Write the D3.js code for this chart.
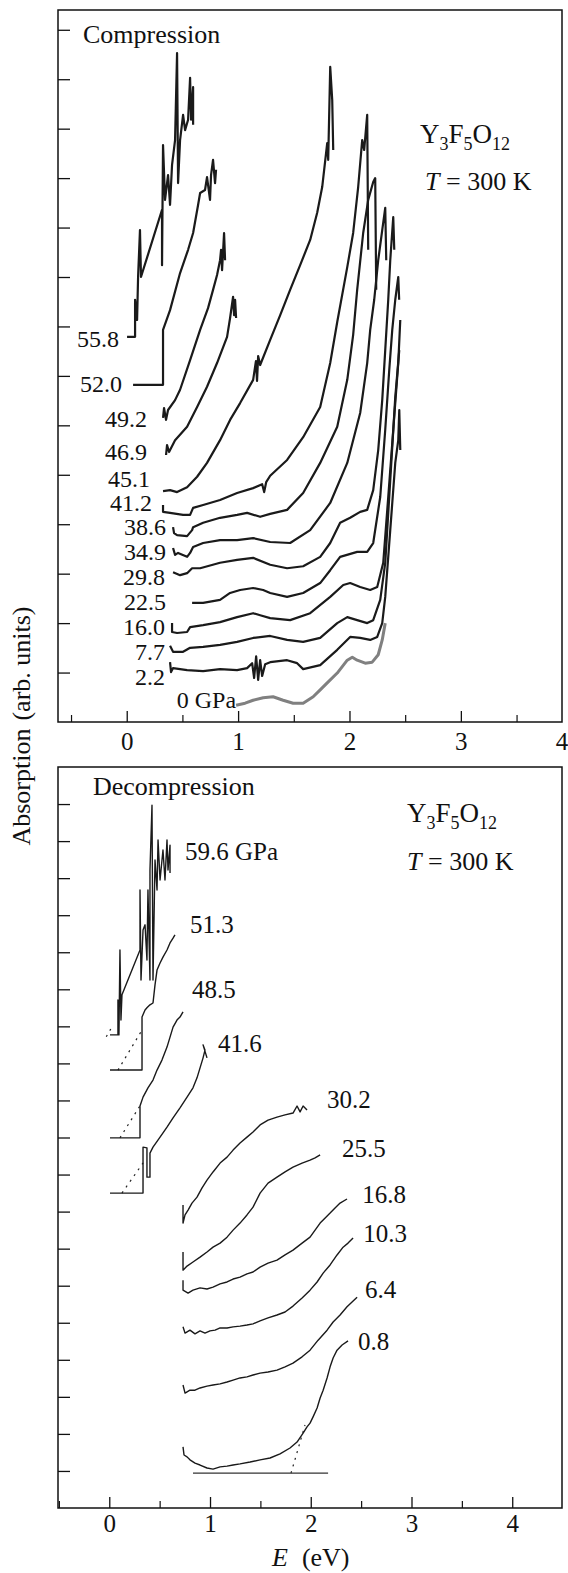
<!DOCTYPE html>
<html>
<head>
<meta charset="utf-8">
<script src="https://cdn.jsdelivr.net/npm/d3@7"></script>
<style>
  body { margin: 0; background: #fff; }
  svg text { font-family: "Liberation Serif", "Times New Roman", serif; fill: #111; }
</style>
</head>
<body>
<svg id="chart"></svg>
<script>
const width = 568;
const height = 1573;

// DATA -------------------------------------------
// energies in eV, absorption in arb. units (one unit = one y tick)

// compression run
const compLabels = ['55.8', '52.0', '49.2', '46.9', '45.1', '41.2', '38.6', '34.9', '29.8', '22.5', '16.0', '7.7', '2.2', '0 GPa'];
const compLabelAt = [[-0.069, 7.58], [-0.042, 6.67], [0.182, 5.97], [0.182, 5.30], [0.209, 4.76], [0.227, 4.27], [0.353, 3.78], [0.353, 3.28], [0.344, 2.77], [0.353, 2.27], [0.344, 1.76], [0.344, 1.25], [0.344, 0.75], [0.982, 0.28]];

const c558 = [[0.003, 7.79], [0.075, 7.79], [0.075, 8.54], [0.093, 8.13], [0.102, 9.00], [0.119, 9.95], [0.128, 9.00], [0.317, 10.36], [0.317, 9.24], [0.326, 11.67], [0.344, 10.56], [0.371, 11.06], [0.389, 10.46], [0.407, 11.27], [0.434, 11.77], [0.452, 13.53], [0.461, 10.90], [0.479, 11.77], [0.506, 12.28], [0.524, 11.97], [0.551, 12.18], [0.569, 13.03], [0.578, 12.18], [0.596, 12.84], [0.596, 12.08]];
const c520 = [[0.057, 6.82], [0.326, 6.82], [0.326, 7.93], [0.389, 8.33], [0.479, 9.08], [0.551, 9.55], [0.596, 9.89], [0.641, 10.46], [0.659, 10.70], [0.703, 10.76], [0.721, 11.02], [0.748, 10.56], [0.757, 11.06], [0.775, 11.37], [0.793, 10.90], [0.802, 11.17]];
const c492 = [[0.326, 6.15], [0.335, 6.35], [0.353, 6.11], [0.371, 6.31], [0.434, 6.51], [0.479, 6.72], [0.569, 7.32], [0.659, 7.93], [0.730, 8.37], [0.775, 8.74], [0.811, 9.04], [0.838, 9.34], [0.847, 9.55], [0.856, 9.14], [0.874, 9.89], [0.883, 9.34]];
const c469 = [[0.353, 5.40], [0.362, 5.60], [0.380, 5.46], [0.434, 5.70], [0.542, 5.97], [0.632, 6.37], [0.721, 6.78], [0.811, 7.26], [0.901, 7.79], [0.928, 8.17], [0.955, 8.60], [0.964, 8.23], [0.973, 8.54], [0.982, 8.17]];
const c451 = [[0.326, 4.67], [0.389, 4.69], [0.452, 4.65], [0.542, 4.75], [0.632, 4.96], [0.721, 5.24], [0.838, 5.70], [0.928, 6.11], [1.018, 6.45], [1.135, 6.92], [1.160, 7.30], [1.170, 6.90], [1.180, 7.40], [1.198, 7.22], [1.288, 7.73], [1.378, 8.23], [1.467, 8.74], [1.557, 9.24], [1.647, 9.75], [1.710, 10.30], [1.755, 10.82], [1.800, 11.71], [1.809, 11.37], [1.827, 13.25], [1.845, 12.58], [1.854, 11.57]];
const c412 = [[0.326, 4.39], [0.326, 4.25], [0.389, 4.23], [0.506, 4.19], [0.569, 4.19], [0.596, 4.33], [0.686, 4.39], [0.838, 4.49], [0.991, 4.63], [1.135, 4.73], [1.216, 4.81], [1.234, 4.65], [1.252, 4.85], [1.288, 4.98], [1.440, 5.30], [1.584, 5.76], [1.737, 6.37], [1.827, 7.26], [1.890, 8.09], [1.980, 9.20], [2.033, 9.89], [2.078, 10.82], [2.114, 11.77], [2.132, 11.57], [2.159, 12.28], [2.168, 9.55]];
const c386 = [[0.416, 3.94], [0.425, 3.82], [0.452, 3.78], [0.542, 3.76], [0.587, 3.88], [0.596, 3.94], [0.686, 4.03], [0.838, 4.13], [0.991, 4.19], [1.081, 4.23], [1.198, 4.15], [1.288, 4.21], [1.440, 4.29], [1.584, 4.63], [1.737, 5.24], [1.890, 5.97], [1.980, 6.92], [2.033, 7.83], [2.069, 8.74], [2.123, 9.89], [2.168, 10.56], [2.213, 10.92], [2.231, 11.00], [2.240, 8.74]];
const c349 = [[0.416, 3.52], [0.434, 3.38], [0.461, 3.42], [0.542, 3.34], [0.569, 3.42], [0.596, 3.54], [0.686, 3.62], [0.838, 3.68], [0.991, 3.68], [1.135, 3.72], [1.288, 3.64], [1.467, 3.62], [1.647, 3.88], [1.827, 4.43], [1.980, 5.24], [2.096, 6.25], [2.159, 7.26], [2.186, 7.93], [2.222, 8.54], [2.258, 9.34], [2.294, 9.95], [2.321, 10.40], [2.330, 9.34]];
const c298 = [[0.416, 3.03], [0.479, 2.97], [0.542, 3.01], [0.587, 3.11], [0.659, 3.11], [0.838, 3.22], [0.991, 3.28], [1.135, 3.32], [1.288, 3.18], [1.440, 3.11], [1.584, 3.15], [1.737, 3.34], [1.827, 3.62], [1.916, 4.03], [2.006, 4.13], [2.096, 4.25], [2.159, 4.29], [2.213, 4.69], [2.258, 5.50], [2.294, 6.51], [2.321, 7.52], [2.348, 8.54], [2.366, 9.34], [2.393, 10.21], [2.402, 9.55]];
const c225 = [[0.587, 2.41], [0.686, 2.41], [0.838, 2.47], [0.928, 2.61], [1.018, 2.67], [1.135, 2.71], [1.225, 2.67], [1.288, 2.61], [1.440, 2.53], [1.584, 2.61], [1.737, 2.81], [1.827, 3.07], [1.916, 3.34], [2.069, 3.44], [2.159, 3.44], [2.213, 3.62], [2.276, 4.55], [2.321, 5.91], [2.357, 7.12], [2.384, 7.93], [2.411, 8.54], [2.438, 9.00], [2.446, 8.54]];
const c160 = [[0.407, 2.00], [0.407, 1.82], [0.452, 1.80], [0.542, 1.82], [0.569, 1.92], [0.686, 1.96], [0.838, 2.02], [0.991, 2.12], [1.135, 2.20], [1.198, 2.16], [1.288, 2.10], [1.467, 2.06], [1.647, 2.20], [1.827, 2.53], [1.944, 2.77], [2.006, 2.81], [2.096, 2.73], [2.186, 2.67], [2.249, 2.73], [2.303, 3.22], [2.348, 4.55], [2.393, 5.91], [2.438, 7.26], [2.456, 8.13]];
const c77 = [[0.389, 1.54], [0.416, 1.42], [0.506, 1.42], [0.569, 1.50], [0.686, 1.52], [0.838, 1.56], [0.991, 1.62], [1.135, 1.70], [1.288, 1.74], [1.440, 1.66], [1.584, 1.62], [1.737, 1.70], [1.890, 2.00], [1.980, 2.12], [2.069, 2.06], [2.159, 2.00], [2.213, 2.06], [2.276, 2.47], [2.321, 3.22], [2.366, 4.89], [2.411, 6.57], [2.447, 7.52]];
const c22 = [[0.389, 1.21], [0.398, 1.01], [0.416, 1.09], [0.542, 1.05], [0.686, 1.03], [0.838, 1.07], [0.991, 1.05], [1.081, 1.09], [1.126, 1.19], [1.144, 0.89], [1.162, 1.33], [1.180, 0.85], [1.198, 1.25], [1.216, 0.93], [1.243, 1.17], [1.288, 1.21], [1.440, 1.25], [1.530, 1.19], [1.584, 1.07], [1.737, 1.15], [1.890, 1.46], [2.006, 1.72], [2.096, 1.70], [2.186, 1.66], [2.249, 1.72], [2.294, 2.00], [2.321, 2.53], [2.366, 3.88], [2.411, 5.24], [2.438, 5.70], [2.447, 6.31], [2.456, 5.50]];
const c0 = [[0.982, 0.34], [1.063, 0.38], [1.135, 0.44], [1.225, 0.49], [1.314, 0.51], [1.404, 0.44], [1.494, 0.38], [1.584, 0.38], [1.674, 0.51], [1.737, 0.65], [1.800, 0.79], [1.890, 0.99], [1.980, 1.25], [2.025, 1.31], [2.069, 1.25], [2.141, 1.19], [2.204, 1.21], [2.258, 1.36], [2.294, 1.66], [2.321, 2.00]];
const compCurves = [c558, c520, c492, c469, c451, c412, c386, c349, c298, c225, c160, c77, c22, c0];

// decompression run
const decLabels = ['59.6 GPa', '51.3', '48.5', '41.6', '30.2', '25.5', '16.8', '10.3', '6.4', '0.8'];
const decLabelAt = [[0.752, 17.49], [0.801, 15.52], [0.821, 13.77], [1.079, 12.31], [2.162, 10.80], [2.311, 9.47], [2.510, 8.23], [2.520, 7.18], [2.539, 5.67], [2.470, 4.26]];

const d596 = [[0.007, 12.77], [0.086, 12.77], [0.086, 13.71], [0.096, 12.77], [0.106, 15.06], [0.116, 13.17], [0.126, 13.85], [0.305, 15.06], [0.305, 16.68], [0.315, 14.25], [0.335, 15.60], [0.355, 15.74], [0.374, 14.79], [0.384, 16.68], [0.404, 14.25], [0.404, 17.22], [0.424, 18.97], [0.434, 14.25], [0.454, 17.49], [0.474, 16.68], [0.484, 18.03], [0.504, 16.95], [0.533, 17.76], [0.553, 16.95], [0.573, 18.03], [0.583, 17.22], [0.603, 17.89], [0.603, 17.14]];
const d513 = [[0.007, 11.82], [0.325, 11.82], [0.325, 13.25], [0.355, 13.44], [0.374, 13.50], [0.404, 13.58], [0.434, 13.63], [0.454, 14.12], [0.474, 14.52], [0.504, 14.71], [0.533, 14.87], [0.573, 15.06], [0.603, 15.25], [0.633, 15.38], [0.652, 15.47]];
const d485 = [[0.007, 9.99], [0.305, 9.99], [0.305, 10.85], [0.335, 11.09], [0.384, 11.34], [0.434, 11.55], [0.474, 11.82], [0.523, 12.09], [0.573, 12.44], [0.603, 12.71], [0.633, 12.98], [0.672, 13.17], [0.702, 13.25], [0.732, 13.39]];
const d416 = [[0.007, 8.50], [0.335, 8.50], [0.335, 9.74], [0.374, 9.72], [0.374, 8.93], [0.404, 8.93], [0.404, 9.58], [0.434, 9.74], [0.504, 10.01], [0.573, 10.28], [0.633, 10.53], [0.702, 10.80], [0.772, 11.09], [0.831, 11.34], [0.871, 11.61], [0.901, 11.88], [0.931, 12.15], [0.950, 12.36], [0.931, 12.50], [0.970, 12.15]];
const d302 = [[0.732, 8.18], [0.732, 7.69], [0.752, 7.91], [0.782, 8.04], [0.821, 8.23], [0.871, 8.39], [0.921, 8.64], [0.970, 8.85], [1.030, 9.07], [1.100, 9.31], [1.169, 9.47], [1.229, 9.66], [1.298, 9.85], [1.367, 10.01], [1.427, 10.15], [1.497, 10.34], [1.576, 10.47], [1.665, 10.55], [1.745, 10.61], [1.824, 10.66], [1.864, 10.85], [1.894, 10.69], [1.924, 10.85], [1.963, 10.74]];
const d255 = [[0.732, 6.91], [0.732, 6.42], [0.772, 6.53], [0.831, 6.64], [0.901, 6.77], [0.970, 6.91], [1.030, 7.04], [1.100, 7.15], [1.169, 7.31], [1.229, 7.50], [1.298, 7.69], [1.367, 7.91], [1.427, 8.12], [1.497, 8.50], [1.576, 8.77], [1.665, 8.93], [1.745, 9.07], [1.824, 9.20], [1.914, 9.31], [1.993, 9.39], [2.043, 9.45], [2.093, 9.53]];
const d168 = [[0.732, 6.15], [0.732, 5.88], [0.782, 5.80], [0.831, 5.88], [0.901, 5.94], [0.970, 5.91], [1.030, 5.96], [1.100, 6.05], [1.169, 6.10], [1.229, 6.18], [1.298, 6.23], [1.367, 6.32], [1.427, 6.37], [1.497, 6.50], [1.576, 6.61], [1.665, 6.69], [1.745, 6.83], [1.824, 6.96], [1.914, 7.15], [1.993, 7.31], [2.043, 7.50], [2.093, 7.69], [2.143, 7.83], [2.192, 7.96], [2.241, 8.10], [2.291, 8.23], [2.360, 8.34]];
const d103 = [[0.732, 4.89], [0.752, 4.72], [0.801, 4.80], [0.851, 4.70], [0.901, 4.78], [0.950, 4.72], [1.000, 4.78], [1.050, 4.80], [1.100, 4.86], [1.169, 4.86], [1.229, 4.89], [1.298, 4.91], [1.367, 4.94], [1.427, 4.97], [1.497, 5.05], [1.576, 5.13], [1.665, 5.21], [1.745, 5.29], [1.824, 5.45], [1.914, 5.67], [1.993, 5.88], [2.063, 6.10], [2.123, 6.34], [2.192, 6.56], [2.261, 6.83], [2.321, 7.04], [2.370, 7.15], [2.420, 7.29]];
const d64 = [[0.732, 3.32], [0.752, 3.10], [0.801, 3.18], [0.851, 3.18], [0.901, 3.24], [0.970, 3.29], [1.030, 3.32], [1.100, 3.35], [1.169, 3.40], [1.229, 3.45], [1.298, 3.51], [1.367, 3.54], [1.427, 3.59], [1.497, 3.64], [1.576, 3.67], [1.665, 3.72], [1.745, 3.81], [1.824, 3.91], [1.914, 4.08], [1.993, 4.26], [2.073, 4.53], [2.162, 4.80], [2.222, 5.02], [2.291, 5.21], [2.360, 5.43], [2.410, 5.56], [2.460, 5.69]];
const d08 = [[0.732, 1.65], [0.742, 1.43], [0.772, 1.38], [0.801, 1.30], [0.851, 1.21], [0.901, 1.16], [0.970, 1.08], [1.030, 1.05], [1.100, 1.11], [1.169, 1.13], [1.229, 1.16], [1.298, 1.19], [1.398, 1.24], [1.497, 1.30], [1.596, 1.35], [1.695, 1.46], [1.794, 1.62], [1.864, 1.78], [1.924, 2.02], [1.963, 2.19], [1.993, 2.29], [2.023, 2.46], [2.063, 2.70], [2.093, 2.97], [2.123, 3.18], [2.162, 3.51], [2.192, 3.81], [2.222, 4.05], [2.261, 4.26], [2.311, 4.40], [2.370, 4.51]];
const decCurves = [d596, d513, d485, d416, d302, d255, d168, d103, d64, d08];

// edge extrapolations (dotted) and the 0.8 GPa base line
const decEdgeFits = [
    [[-0.03, 12.72], [0.03, 13.00]],
    [[0.086, 11.82], [0.325, 12.90]],
    [[0.106, 9.99], [0.315, 10.90]],
    [[0.126, 8.50], [0.355, 9.39]],
    [[1.804, 0.94], [1.943, 2.24]],
];
const decBase = [[0.831, 0.94], [2.172, 0.94]];

// axes
const topXDomain = [-0.617, 3.908];
const topYDomain = [0, 14.4];
const botXDomain = [-0.509, 4.494];
const botYDomain = [0, 20];
const xMajor = [0, 1, 2, 3, 4];
const xMinor = [-0.5, 0.5, 1.5, 2.5, 3.5];
const topYTicks = d3.range(1, 15);
const botYTicks = d3.range(1, 20);

// LAYOUT -------------------------------------------
const frame = { left: 58, right: 562 };
const topBox = { top: 10, bottom: 722 };
const botBox = { top: 767, bottom: 1508 };

const svg = d3.select('svg#chart')
    .attr('width', width)
    .attr('height', height)

svg.append('rect')
    .attr('width', width)
    .attr('height', height)
    .attr('fill', '#fff')

function formula(g, x, y) {
    const t = g.append('text')
        .attr('x', x)
        .attr('y', y)
        .style('font-size', '27px')
    const parts = [['Y', 0], ['3', 1], ['F', 0], ['5', 1], ['O', 0], ['12', 1]];
    let low = false;
    parts.forEach(([s, sub]) => {
        const span = t.append('tspan').text(s);
        if (sub && !low) { span.attr('dy', 7).style('font-size', '18px'); low = true; }
        else if (sub) { span.style('font-size', '18px'); }
        else if (low) { span.attr('dy', -7); low = false; }
    });
}

function temperature(g, x, y) {
    const t = g.append('text')
        .attr('x', x)
        .attr('y', y)
        .style('font-size', '26px')
    t.append('tspan').text('T').style('font-style', 'italic');
    t.append('tspan').text(' = 300 K');
}

function drawPanel(p) {
    const x = d3.scaleLinear().domain(p.xDomain).range([frame.left, frame.right]);
    const y = d3.scaleLinear().domain(p.yDomain).range([p.box.bottom, p.box.top]);
    const g = svg.append('g');

    // y ticks (inside, no labels)
    const ay = g.append('g')
        .attr('transform', `translate(${frame.left},0)`)
        .call(d3.axisLeft(y).tickValues(p.yTicks).tickSizeInner(-12).tickSizeOuter(0).tickFormat(''))
    ay.select('.domain').remove();
    ay.selectAll('line').attr('stroke', '#111').attr('stroke-width', 1.3);

    // x ticks
    const shownMajor = xMajor.filter(v => v >= p.xDomain[0] && v <= p.xDomain[1]);
    const ax = g.append('g')
        .attr('transform', `translate(0,${p.box.bottom})`)
        .call(d3.axisBottom(x).tickValues(shownMajor).tickSizeInner(-11).tickSizeOuter(0).tickFormat(d3.format('d')))
    ax.select('.domain').remove();
    ax.attr('font-family', null).attr('font-size', null);
    ax.selectAll('line').attr('stroke', '#111').attr('stroke-width', 1.3);
    ax.selectAll('text')
        .attr('y', p.tickBaseline)
        .attr('dy', 0)
        .style('font-size', '25px')
        .attr('fill', '#111')

    const axm = g.append('g')
        .attr('transform', `translate(0,${p.box.bottom})`)
        .call(d3.axisBottom(x).tickValues(xMinor).tickSizeInner(-7).tickSizeOuter(0).tickFormat(''))
    axm.select('.domain').remove();
    axm.selectAll('line').attr('stroke', '#111').attr('stroke-width', 1.2);

    // label at the frame corner when the last major tick falls outside the domain
    if (p.edgeLabel) {
        g.append('text')
            .attr('x', frame.right)
            .attr('y', p.box.bottom + p.tickBaseline)
            .attr('text-anchor', 'middle')
            .style('font-size', '25px')
            .text(p.edgeLabel)
    }

    // frame
    g.append('rect')
        .attr('x', frame.left)
        .attr('y', p.box.top)
        .attr('width', frame.right - frame.left)
        .attr('height', p.box.bottom - p.box.top)
        .attr('fill', 'none')
        .attr('stroke', '#111')
        .attr('stroke-width', 1.5)

    const line = d3.line().x(d => x(d[0])).y(d => y(d[1]));

    if (p.fits) {
        g.selectAll('.fit')
            .data(p.fits).enter()
            .append('path')
            .attr('class', 'fit')
            .attr('d', line)
            .attr('fill', 'none')
            .attr('stroke', '#222')
            .attr('stroke-width', 1.2)
            .attr('stroke-dasharray', '2,5')
    }
    if (p.base) {
        g.append('path')
            .attr('d', line(p.base))
            .attr('fill', 'none')
            .attr('stroke', '#333')
            .attr('stroke-width', 1.2)
    }

    g.selectAll('.curve')
        .data(p.curves).enter()
        .append('path')
        .attr('class', 'curve')
        .attr('d', line)
        .attr('fill', 'none')
        .attr('stroke', (d, i) => p.gray === i ? '#808080' : '#1a1a1a')
        .attr('stroke-width', (d, i) => p.gray === i ? 3 : p.lineWidth)
        .attr('stroke-linejoin', 'round')

    g.selectAll('.plabel')
        .data(p.labels).enter()
        .append('text')
        .attr('class', 'plabel')
        .attr('x', (d, i) => x(p.labelAt[i][0]))
        .attr('y', (d, i) => y(p.labelAt[i][1]))
        .attr('text-anchor', p.labelAnchor)
        .style('font-size', p.labelSize)
        .text(d => d)

    g.append('text')
        .attr('x', frame.left + p.title.dx)
        .attr('y', p.box.top + p.title.dy)
        .style('font-size', '26px')
        .text(p.title.text)

    formula(g, p.formulaAt[0], p.formulaAt[1]);
    temperature(g, p.tempAt[0], p.tempAt[1]);
}

drawPanel({
    box: topBox,
    xDomain: topXDomain,
    yDomain: topYDomain,
    yTicks: topYTicks,
    tickBaseline: 28,
    edgeLabel: '4',
    curves: compCurves,
    labels: compLabels,
    labelAt: compLabelAt,
    labelAnchor: 'end',
    labelSize: '24px',
    gray: 13,
    lineWidth: 2.2,
    title: { text: 'Compression', dx: 25, dy: 33 },
    formulaAt: [420, 143],
    tempAt: [425, 190],
});

drawPanel({
    box: botBox,
    xDomain: botXDomain,
    yDomain: botYDomain,
    yTicks: botYTicks,
    tickBaseline: 24,
    curves: decCurves,
    labels: decLabels,
    labelAt: decLabelAt,
    labelAnchor: 'start',
    labelSize: '25px',
    fits: decEdgeFits,
    base: decBase,
    lineWidth: 1.4,
    title: { text: 'Decompression', dx: 35, dy: 28 },
    formulaAt: [407, 822],
    tempAt: [407, 870],
});

// shared axis titles
const ytitle = svg.append('text')
    .attr('transform', 'translate(30,726) rotate(-90)')
    .attr('text-anchor', 'middle')
    .style('font-size', '26px')
ytitle.append('tspan').text('Absorption');
ytitle.append('tspan').attr('dx', 8).text('(arb. units)');

const xtitle = svg.append('text')
    .attr('x', 272)
    .attr('y', 1566)
    .style('font-size', '26px')
xtitle.append('tspan').text('E').style('font-style', 'italic');
xtitle.append('tspan').attr('dx', 14).text('(eV)');
</script>
</body>
</html>
